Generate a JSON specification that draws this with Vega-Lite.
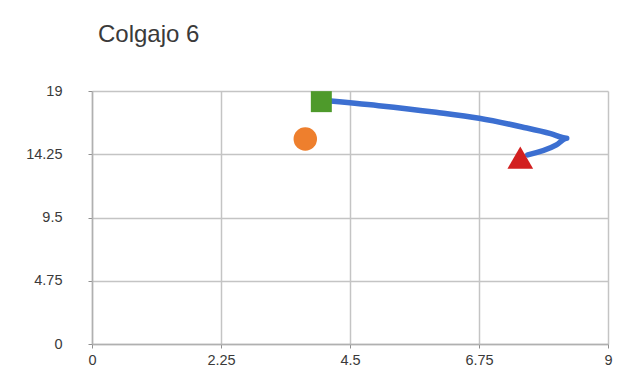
{
  "$schema": "https://vega.github.io/schema/vega-lite/v6.json",
  "autosize": {"type": "none"},
  "width": 516,
  "height": 253,
  "padding": {"left": 92, "top": 91, "right": 10, "bottom": 28},
  "background": "white",
  "config": {"view": {"stroke": null}, "font": "Liberation Sans"},
  "title": {"text": "Colgajo 6", "anchor": "start", "frame": "group", "dx": 6, "offset": 36, "fontSize": 24, "fontWeight": "normal", "color": "#3a3a3a", "font": "Liberation Sans"},
  "datasets": {
    "curve": [
      {"x": 4.0, "y": 18.3, "o": 1},
      {"x": 5.0, "y": 17.9, "o": 2},
      {"x": 6.0, "y": 17.4, "o": 3},
      {"x": 6.75, "y": 16.95, "o": 4},
      {"x": 7.5, "y": 16.3, "o": 5},
      {"x": 8.0, "y": 15.8, "o": 6},
      {"x": 8.28, "y": 15.45, "o": 7},
      {"x": 8.1, "y": 14.95, "o": 8},
      {"x": 7.6, "y": 14.2, "o": 9}
    ],
    "pts": [
      {"x": 4.0, "y": 18.2, "k": "square"},
      {"x": 3.72, "y": 15.4, "k": "circle"},
      {"x": 7.47, "y": 14.0, "k": "triangle-up"}
    ]
  },
  "encoding": {
    "x": {"field": "x", "type": "quantitative", "scale": {"domain": [0, 9], "nice": false, "zero": false},
      "axis": {"values": [0, 2.25, 4.5, 6.75, 9], "title": null, "grid": true, "gridColor": "#c4c4c4", "gridWidth": 1.5, "domainColor": "#b0b0b0", "domainWidth": 1.5, "tickColor": "#909090", "tickSize": 4, "labelFontSize": 14.5, "labelColor": "#3a3a3a", "labelPadding": 5, "labelFlush": false, "labelExpr": "'' + datum.value"}},
    "y": {"field": "y", "type": "quantitative", "scale": {"domain": [0, 19], "nice": false, "zero": false},
      "axis": {"values": [0, 4.75, 9.5, 14.25, 19], "title": null, "grid": true, "gridColor": "#c4c4c4", "gridWidth": 1.5, "domainColor": "#b0b0b0", "domainWidth": 1.5, "tickColor": "#909090", "tickSize": 4, "labelFontSize": 14.5, "labelColor": "#3a3a3a", "labelAlign": "right", "labelPadding": 26, "labelFlush": false, "labelExpr": "'' + datum.value"}}
  },
  "layer": [
    {
      "data": {"name": "curve"},
      "mark": {"type": "line", "color": "#3c6fd1", "strokeWidth": 5.5, "interpolate": "monotone", "strokeCap": "round", "strokeJoin": "round"},
      "encoding": {"order": {"field": "o", "type": "quantitative"}}
    },
    {
      "data": {"name": "pts"},
      "mark": {"type": "point", "filled": true, "opacity": 1},
      "encoding": {
        "shape": {"field": "k", "type": "nominal", "scale": {"domain": ["square", "circle", "triangle-up"], "range": ["square", "circle", "triangle-up"]}, "legend": null},
        "color": {"field": "k", "type": "nominal", "scale": {"domain": ["square", "circle", "triangle-up"], "range": ["#4e9a2b", "#ee7f2d", "#d21f1f"]}, "legend": null},
        "size": {"field": "k", "type": "nominal", "scale": {"domain": ["square", "circle", "triangle-up"], "range": [440, 660, 500]}, "legend": null}
      }
    }
  ]
}
